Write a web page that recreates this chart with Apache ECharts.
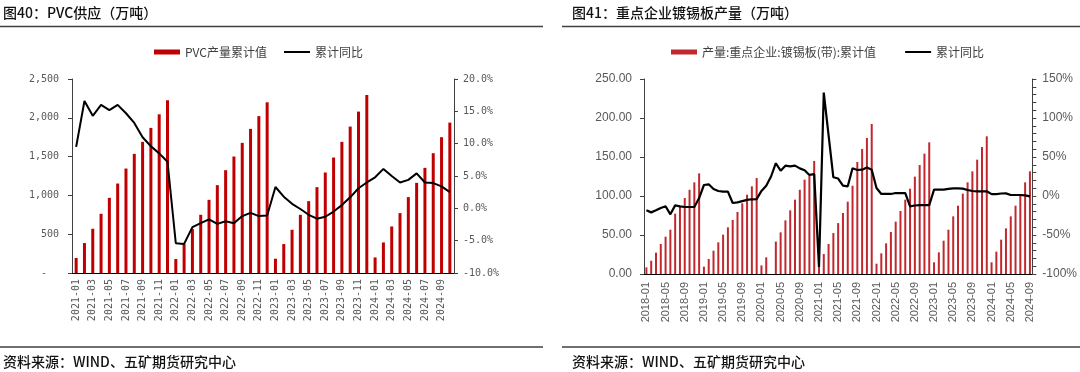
<!DOCTYPE html>
<html><head><meta charset="utf-8">
<script src="https://cdn.jsdelivr.net/npm/echarts@6/dist/echarts.min.js"></script>
<style>html,body{margin:0;padding:0;background:#fff}#c{width:1080px;height:372px}</style>
</head><body><div id="c"></div>
<script>
// ---------- Left chart: PVC supply ----------
const pvcMonths = [
  '2021-01','2021-02','2021-03','2021-04','2021-05','2021-06','2021-07','2021-08','2021-09','2021-10','2021-11','2021-12',
  '2022-01','2022-02','2022-03','2022-04','2022-05','2022-06','2022-07','2022-08','2022-09','2022-10','2022-11','2022-12',
  '2023-01','2023-02','2023-03','2023-04','2023-05','2023-06','2023-07','2023-08','2023-09','2023-10','2023-11','2023-12',
  '2024-01','2024-02','2024-03','2024-04','2024-05','2024-06','2024-07','2024-08','2024-09','2024-10'
];
const pvcOutput = [
  193, 386, 570, 763, 969, 1153, 1346, 1535, 1690, 1870, 2045, 2226,
  180, 372, 566, 750, 943, 1132, 1325, 1501, 1677, 1857, 2022, 2200,
  184, 373, 557, 750, 926, 1106, 1295, 1488, 1690, 1887, 2080, 2294,
  201, 394, 600, 772, 978, 1162, 1355, 1544, 1750, 1938
];
const pvcYoY = [
  9.5, 16.6, 14.3, 16.0, 15.2, 16.0, 14.7, 13.2, 11.0, 9.6, 8.5, 7.2,
  -5.4, -5.5, -2.9, -2.3, -1.7, -2.4, -2.0, -2.3, -1.2, -0.7, -1.2, -1.1,
  3.3, 1.8, 0.7, -0.1, -1.0, -1.6, -1.3, -0.5, 0.5, 1.7, 3.1, 4.0,
  4.8, 6.1, 5.0, 4.0, 4.4, 5.4, 4.0, 3.9, 3.4, 2.5
];

// ---------- Right chart: tinplate output ----------
const tinMonths = [
  '2018-01','2018-02','2018-03','2018-04','2018-05','2018-06','2018-07','2018-08','2018-09','2018-10','2018-11','2018-12',
  '2019-01','2019-02','2019-03','2019-04','2019-05','2019-06','2019-07','2019-08','2019-09','2019-10','2019-11','2019-12',
  '2020-01','2020-02','2020-03','2020-04','2020-05','2020-06','2020-07','2020-08','2020-09','2020-10','2020-11','2020-12',
  '2021-01','2021-02','2021-03','2021-04','2021-05','2021-06','2021-07','2021-08','2021-09','2021-10','2021-11','2021-12',
  '2022-01','2022-02','2022-03','2022-04','2022-05','2022-06','2022-07','2022-08','2022-09','2022-10','2022-11','2022-12',
  '2023-01','2023-02','2023-03','2023-04','2023-05','2023-06','2023-07','2023-08','2023-09','2023-10','2023-11','2023-12',
  '2024-01','2024-02','2024-03','2024-04','2024-05','2024-06','2024-07','2024-08','2024-09'
];
const tinOutput = [
  8.5, 17, 27.4, 38.5, 47.9, 56.8, 77.4, 86.8, 97.4, 108, 117.5, 129,
  9.4, 19.2, 29.9, 40.6, 50.4, 59.8, 69.2, 79.5, 90.6, 101.7, 112.4, 123,
  11, 21.4, null, 41.5, 53.4, 68.8, 81.6, 95.3, 108, 121, 126, 145,
  10, 25.6, 38.4, 52.5, 65.3, 78.2, 92.7, 113.2, 143.6, 160.3, 174.4, 192.3,
  13.2, 26.5, 39.3, 53.8, 67.1, 80.8, 95.3, 109.4, 124.8, 139.7, 154.3, 168.8,
  15, 27.8, 42.7, 56.8, 73.9, 87.6, 103, 117.5, 131.6, 146.6, 162.8, 176.5,
  15, 28.6, 44, 58.5, 73.9, 87.6, 102.6, 117.5, 131.6
];
const tinYoY = [
  -18.4, -21, -18.4, -15.4, -13.2, -23.5, -12, -13.2, -14.1, -14.1, -14.1, -2.6,
  14.1, 15, 9, 6.4, 5.6, 5.6, -9, -8.2, -6.5, -5, -4.2, -4,
  6.5, 13.2, 25, 42, 32.5, 38.9, 38, 38.9, 35.4, 33, 27, 28,
  -91, 132.5, 78, 24, 22.4, 13.2, 12.4, 35.6, 33.3, 33.7, 36.5, 33.7,
  10.2, 2.6, 2.6, 2.6, 3.8, 3.8, 3.8, -13.2, -12.2, -11.8, -11.8, -11.8,
  8.1, 8.1, 8.1, 9.2, 9.8, 9.8, 9.4, 7.7, 6.4, 6, 6, 6,
  2.4, 2.4, 3.2, 3.4, 1.3, 1.3, 1.3, 0.7, -0.4
];

const CJK = '"Noto Sans CJK SC", sans-serif';
const MONO = '"DejaVu Sans Mono", monospace';
const SANS = '"Liberation Sans", Arial, sans-serif';
const AX = '#404040';
const LBL = '#595959';

const chart = echarts.init(document.getElementById('c'));
const titleStyle = {fontFamily: CJK, fontSize: 14, fontWeight: 500, color: '#111'};
const hiddenDot = {opacity: 0};
chart.setOption({
  animation: false,
  backgroundColor: '#fff',
  title: [
    {text: '图40：PVC供应（万吨）', left: 3, top: 6, padding: 0, textStyle: titleStyle},
    {text: '图41：重点企业镀锡板产量（万吨）', left: 572, top: 6, padding: 0, textStyle: titleStyle},
    {text: '资料来源：WIND、五矿期货研究中心', left: 3, top: 355, padding: 0, textStyle: titleStyle},
    {text: '资料来源：WIND、五矿期货研究中心', left: 572, top: 355, padding: 0, textStyle: titleStyle}
  ],
  graphic: [
    {type: 'line', shape: {x1: 0, y1: 26.5, x2: 543, y2: 26.5}, style: {stroke: '#404040', lineWidth: 1.5}},
    {type: 'line', shape: {x1: 562, y1: 26.5, x2: 1080, y2: 26.5}, style: {stroke: '#404040', lineWidth: 1.5}},
    {type: 'line', shape: {x1: 0, y1: 347, x2: 543, y2: 347}, style: {stroke: '#404040', lineWidth: 1.5}},
    {type: 'line', shape: {x1: 562, y1: 347, x2: 1080, y2: 347}, style: {stroke: '#404040', lineWidth: 1.5}}
  ],
  legend: [
    {left: 154, top: 46, padding: 0, itemWidth: 26, itemHeight: 5, itemGap: 16,
     textStyle: {fontFamily: CJK, fontSize: 12, color: '#404040'},
     data: [{name: 'PVC产量累计值', icon: 'rect'}, {name: '累计同比', itemStyle: hiddenDot}]},
    {left: 671, top: 46, padding: 0, itemWidth: 26, itemHeight: 5, itemGap: 28,
     textStyle: {fontFamily: CJK, fontSize: 12, color: '#404040'},
     data: [{name: '产量:重点企业:镀锡板(带):累计值', icon: 'rect'}, {name: '累计同比 ', itemStyle: hiddenDot}]}
  ],
  grid: [
    {left: 72, right: 626, top: 79, bottom: 99},
    {left: 644, right: 46, top: 79, bottom: 98}
  ],
  xAxis: [
    {type: 'category', gridIndex: 0, data: pvcMonths,
     axisLine: {lineStyle: {color: '#000', width: 1}}, axisTick: {show: false},
     axisLabel: {interval: 1, rotate: 90, margin: 6, fontFamily: MONO, fontSize: 10, color: LBL}},
    {type: 'category', gridIndex: 1, data: tinMonths,
     axisLine: {lineStyle: {color: '#000', width: 1}},
     axisTick: {interval: 3, alignWithLabel: true, length: 4, lineStyle: {color: '#000'}},
     axisLabel: {interval: 3, rotate: 90, margin: 8, fontFamily: SANS, fontSize: 11, color: LBL}}
  ],
  yAxis: [
    {type: 'value', gridIndex: 0, min: 0, max: 2500, interval: 500, position: 'left',
     axisLine: {show: true, lineStyle: {color: AX}}, axisTick: {show: true, length: 4, lineStyle: {color: AX}},
     splitLine: {show: false},
     axisLabel: {margin: 13, fontFamily: MONO, fontSize: 10, color: LBL,
       formatter: v => v === 0 ? '-  ' : v.toLocaleString('en-US')}},
    {type: 'value', gridIndex: 0, min: -10, max: 20, interval: 5, position: 'right',
     axisLine: {show: true, lineStyle: {color: AX}}, axisTick: {show: true, length: 4, lineStyle: {color: AX}},
     splitLine: {show: false},
     axisLabel: {margin: 9, fontFamily: MONO, fontSize: 10, color: LBL, formatter: v => v.toFixed(1) + '%'}},
    {type: 'value', gridIndex: 1, min: 0, max: 250, interval: 50, position: 'left',
     axisLine: {show: true, lineStyle: {color: AX}}, axisTick: {show: true, length: 4, lineStyle: {color: AX}},
     splitLine: {show: false},
     axisLabel: {margin: 12, fontFamily: SANS, fontSize: 12, color: LBL, formatter: v => v.toFixed(2)}},
    {type: 'value', gridIndex: 1, min: -100, max: 150, interval: 50, position: 'right',
     axisLine: {show: true, lineStyle: {color: AX}}, axisTick: {show: true, length: 4, lineStyle: {color: AX}},
     minorTick: {show: true, splitNumber: 5, length: 4, lineStyle: {color: AX}},
     splitLine: {show: false},
     axisLabel: {margin: 10, fontFamily: SANS, fontSize: 12, color: LBL, formatter: v => v + '%'}}
  ],
  series: [
    {name: 'PVC产量累计值', type: 'bar', xAxisIndex: 0, yAxisIndex: 0, data: pvcOutput,
     barWidth: 3, itemStyle: {color: '#C00000'}},
    {name: '累计同比', type: 'line', xAxisIndex: 0, yAxisIndex: 1, data: pvcYoY,
     symbol: 'none', lineStyle: {color: '#000', width: 2}, itemStyle: {color: '#000'}},
    {name: '产量:重点企业:镀锡板(带):累计值', type: 'bar', xAxisIndex: 1, yAxisIndex: 2, data: tinOutput,
     barWidth: 2, itemStyle: {color: '#C0282E'}},
    {name: '累计同比 ', type: 'line', xAxisIndex: 1, yAxisIndex: 3, data: tinYoY,
     symbol: 'none', lineStyle: {color: '#000', width: 2.2}, itemStyle: {color: '#000'}}
  ]
});
</script></body></html>
